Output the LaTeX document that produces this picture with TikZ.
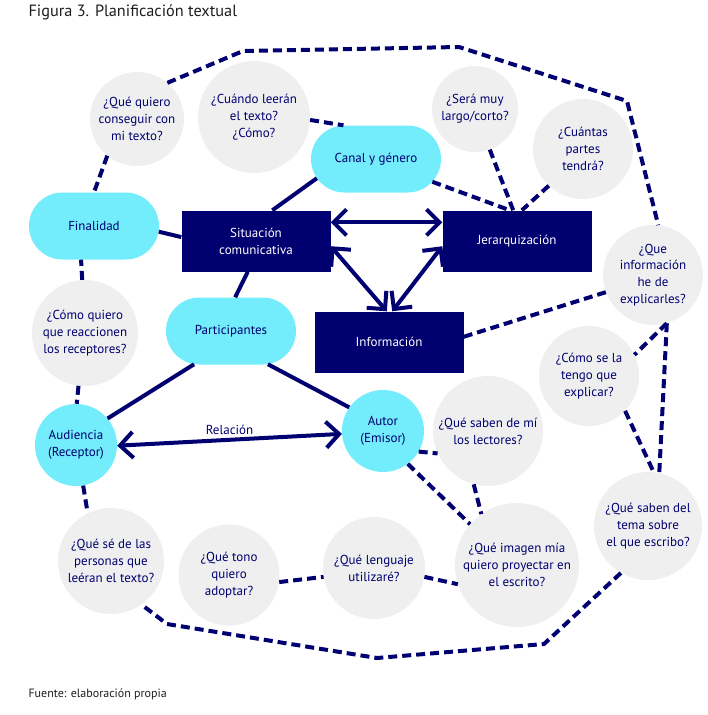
\documentclass[tikz,border=0pt]{standalone}
\usepackage{fontspec}
\setmainfont{PT Sans}
\usetikzlibrary{arrows.meta,shapes.misc}
\definecolor{navy}{RGB}{0,0,112}
\definecolor{skyfill}{RGB}{115,236,252}
\definecolor{qgray}{RGB}{239,239,239}
\definecolor{captiontext}{RGB}{30,30,30}
\tikzset{
    question/.style = {
        circle,
        fill = qgray,
        text = navy,
        align = center,
        inner sep = 0pt,
        font = \fontsize{13}{16.8}\selectfont,
        },
    topic/.style = {
        rounded rectangle,
        fill = skyfill,
        text = navy,
        minimum width = 130pt,
        minimum height = 67pt,
        inner sep = 0pt,
        font = \fontsize{13}{16.8}\selectfont,
        },
    role/.style = {
        circle,
        fill = skyfill,
        text = navy,
        align = center,
        minimum size = 82pt,
        inner sep = 0pt,
        font = \fontsize{13}{16.8}\selectfont,
        },
    block/.style = {
        fill = navy,
        text = white,
        align = center,
        minimum width = 149pt,
        minimum height = 61pt,
        inner sep = 0pt,
        font = \fontsize{13}{16.8}\selectfont,
        },
    link/.style = {
        draw = navy,
        line width = 4pt,
        },
    dash link/.style = {
        draw = navy,
        line width = 4pt,
        dash pattern = on 9pt off 5pt,
        },
    both ways/.style = {
        link,
        {Straight Barb[length=13pt,width=26pt]}-{Straight Barb[length=13pt,width=26pt]},
        },
    caption/.style = {
        anchor = base west,
        text = captiontext,
        },
}

\begin{document}
\begin{tikzpicture}[x=1pt, y=-1pt]
            \useasboundingbox (0,0) rectangle (708,715);

            \node[caption, font=\fontsize{16.3}{19}\selectfont] (title) at (25,16) {Figura 3. Planificación textual};
            \node[caption, font=\fontsize{12}{14}\selectfont] (source) at (25,697) {Fuente: elaboración propia};

            % centro
            \node[block] (sit) at (256,241) {Situación\\comunicativa};
            \node[block] (jer) at (517,241) {Jerarquización};
            \node[block] (info) at (389,342) {Información};

            \node[topic] (fin) at (94,226) {Finalidad};
            \node[topic] (canal) at (376,159) {Canal y género};
            \node[topic] (part) at (231,331) {Participantes};

            \node[role] (aud) at (76,445) {Audiencia\\(Receptor)};
            \node[role] (autor) at (383,431) {Autor\\(Emisor)};

            % preguntas
            \node[question, minimum size=94pt] (conseguir) at (137,119) {¿Qué quiero\\conseguir con\\mi texto?};
            \node[question, minimum size=112pt] (cuando) at (254,117) {¿Cuándo leerán\\el texto?\\¿Cómo?};
            \node[question, minimum size=86pt] (sera) at (475,109) {¿Será muy\\largo/corto?};
            \node[question, minimum size=100pt] (cuantas) at (583,149) {¿Cuántas\\partes\\tendrá?};
            \node[question, minimum size=100pt] (infoq) at (653,275) {¿Que\\información\\he de\\explicarles?};
            \node[question, minimum size=100pt] (comose) at (589,376) {¿Cómo se la\\tengo que\\explicar?};
            \node[question, minimum size=110pt] (sabenmi) at (488,431) {¿Qué saben de mí\\los lectores?};
            \node[question, minimum size=108pt] (tema) at (648,526) {¿Qué saben del\\tema sobre\\el que escribo?};
            \node[question, minimum size=124pt] (imagen) at (517,565) {¿Qué imagen mía\\quiero proyectar en\\el escrito?};
            \node[question, minimum size=102pt] (lenguaje) at (374,568) {¿Qué lenguaje\\utilizaré?};
            \node[question, minimum size=101pt] (tono) at (229,575) {¿Qué tono\\quiero\\adoptar?};
            \node[question, minimum size=106pt] (sede) at (111,561) {¿Qué sé de las\\personas que\\leéran el texto?};
            \node[question, minimum size=106pt] (reacc) at (85,333) {¿Cómo quiero\\que reaccionen\\los receptores?};

            \coordinate (ring nw) at (243,51);
            \coordinate (ring n) at (459,47);
            \coordinate (ring ne) at (627,101);
            \coordinate (ring se) at (544,644);
            \coordinate (ring s) at (377,658);
            \coordinate (ring sw) at (167,624);

            \path (fin.-5) edge[link] (sit.177);
            \path (canal.198) edge[link] (sit.62);
            \path (part.83) edge[link] (sit.-105);
            \path (part.222) edge[link] (aud.40);
            \path (part.-42) edge[link] (autor.145);
            \path (aud.-1) edge[both ways] node[above=0pt, text=navy, font=\fontsize{13}{16.8}\selectfont] {Relación} (autor.184);

            \path (sit.14) edge[both ways] (jer.166);
            \path (sit.-4) edge[both ways] (info.94);
            \path (jer.184) edge[both ways] (info.84);

            \path (conseguir.231) edge[dash link] (fin.north);
            \path (cuando.-3) edge[dash link] (canal.134);
            \path (canal.-22) edge[dash link] (jer.103);
            \path (sera.-70) edge[dash link] (jer.97);
            \path (cuantas.227) edge[dash link] (jer.81);
            \path (info.4) edge[dash link] (infoq.200);
            \path (infoq.-74) edge[dash link] (comose.25);
            \path (comose.-44) edge[dash link] (tema.84);
            \path (infoq.-74) edge[dash link] (tema.78);
            \path (autor.-30) edge[dash link] (sabenmi.204);
            \path (autor.-53) edge[dash link] (imagen.139);
            \path (sabenmi.-105) edge[dash link] (imagen.125);
            \path (lenguaje.-10) edge[dash link] (imagen.198);
            \path (tono.-8) edge[dash link] (lenguaje.190);
            \path (aud.-80) edge[dash link] (sede.116);
            \path (reacc.93) edge[dash link] (fin.249);
            \path (reacc.-97) edge[dash link] (aud.89);

            \draw[dash link] (conseguir.50) -- (ring nw) -- (ring n) -- (ring ne) -- (infoq.84);
            \draw[dash link] (tema.240) -- (ring se) -- (ring s) -- (ring sw) -- (sede.-55);
        \end{tikzpicture}
\end{document}
